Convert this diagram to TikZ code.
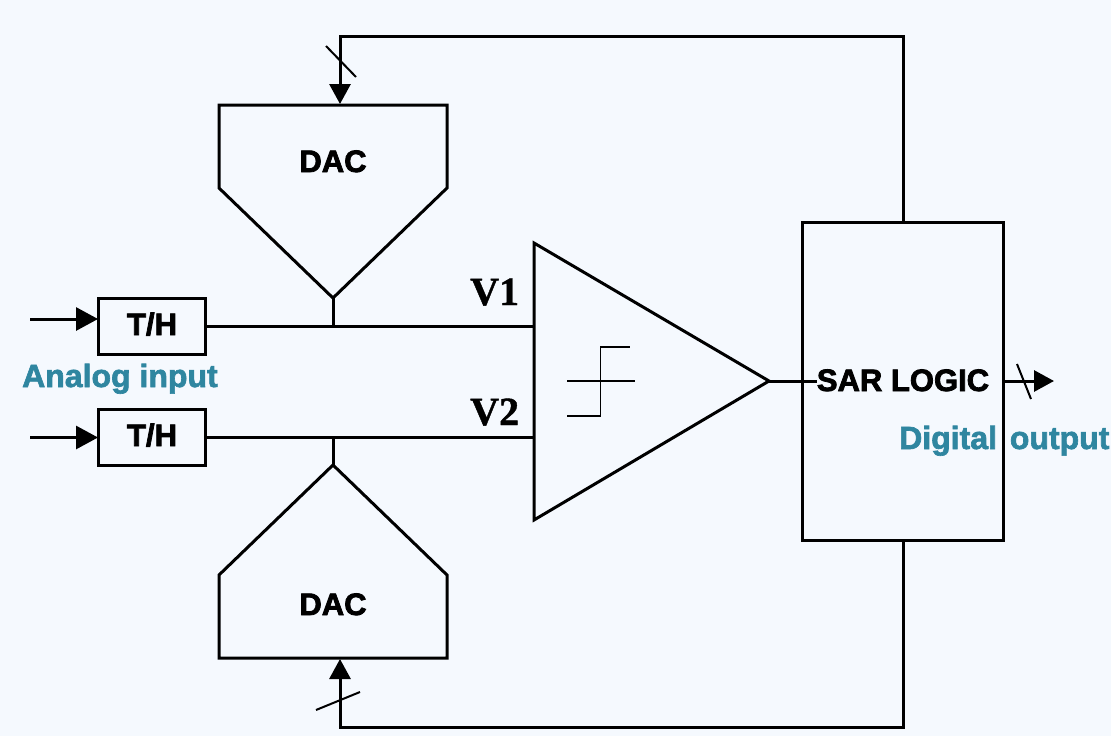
\documentclass[tikz,border=0pt]{standalone}
\usepackage{fontspec}
\setmainfont[BoldFeatures={FakeBold=2.5}]{Liberation Sans}
\newfontfamily\tealfont[BoldFeatures={FakeBold=2}]{Liberation Sans}
\newfontfamily\serifbold[BoldFeatures={FakeBold=1}]{Liberation Serif}
\usetikzlibrary{arrows.meta}
\definecolor{bgc}{HTML}{F5F9FE}
\definecolor{teal2}{HTML}{2F86A0}
\tikzset{
  x=1pt,y=-1pt,
  wire/.style={line width=3pt,black,line join=miter},
  thin wire/.style={line width=1.6pt,black},
  arrowed/.style={wire,-{Triangle[length=20pt,width=21pt,sep=0pt]}},
  inarrow/.style={wire,-{Triangle[length=22pt,width=23pt,sep=0pt]}},
  thbox/.style={draw=black,line width=3pt,rectangle,minimum width=107pt,minimum height=56pt,inner sep=0pt,outer sep=0pt},
  blk/.style={font=\fontsize{31}{31}\selectfont\bfseries,text=black,inner sep=0pt,outer sep=0pt},
  tealtxt/.style={font=\tealfont\fontsize{32}{32}\selectfont\bfseries,text=teal2,inner sep=0pt,anchor=base west},
  vtxt/.style={font=\serifbold\fontsize{40}{40}\selectfont\bfseries,text=black,inner sep=0pt,anchor=base west},
}
\begin{document}
\begin{tikzpicture}
\path[use as bounding box,fill=bgc] (0,0) rectangle (1111,736);

% T/H boxes
\node[thbox] (th1) at (151.5,326) {};
\node[thbox] (th2) at (151.5,437.5) {};
\node[blk,anchor=base] (th1t) at (152,335) {T/H};
\node[blk,anchor=base] (th2t) at (152,446) {T/H};

% inputs
\coordinate (in1) at (30,319);
\coordinate (in1e) at (98,319);
\coordinate (in2) at (30,437.5);
\draw[inarrow] (in1) -- (in1e);
\draw[inarrow] (in2) -- (th2.west);

% DACs
\coordinate (d1a) at (219,105);
\coordinate (d1b) at (447,105);
\coordinate (d1c) at (447,188);
\coordinate (d1tip) at (333,298);
\coordinate (d1e) at (219,188);
\draw[wire] (d1a) -- (d1b) -- (d1c) -- (d1tip) -- (d1e) -- cycle;
\node[blk,anchor=base] (dac1) at (333,172) {DAC};

\coordinate (d2tip) at (333,465);
\coordinate (d2b) at (447,575);
\coordinate (d2c) at (447,658);
\coordinate (d2d) at (219,658);
\coordinate (d2e) at (219,575);
\draw[wire] (d2tip) -- (d2b) -- (d2c) -- (d2d) -- (d2e) -- cycle;
\node[blk,anchor=base] (dac2) at (333,615) {DAC};

% comparator
\coordinate (ca) at (534,243);
\coordinate (cout) at (769,381);
\coordinate (cb) at (534,520);
\draw[wire] (ca) -- (cout) -- (cb) -- cycle;
\coordinate (cin1) at (534,326);
\coordinate (cin2) at (534,437.5);
\coordinate (tap1) at (333,326);
\coordinate (tap2) at (333,437.5);
\draw[wire] (th1.east) -- (cin1);
\draw[wire] (th2.east) -- (cin2);
\draw[wire] (d1tip) -- (tap1);
\draw[wire] (d2tip) -- (tap2);

% step symbol
\coordinate (s1) at (567,416);
\coordinate (s2) at (600.5,416);
\coordinate (s3) at (600.5,347);
\coordinate (s4) at (630,347);
\coordinate (s5) at (567,381);
\coordinate (s6) at (635,381);
\draw[thin wire] (s1) -- (s2) -- (s3) -- (s4);
\draw[thin wire] (s5) -- (s6);

% SAR
\node[draw=black,line width=3pt,rectangle,minimum width=201pt,minimum height=318pt,inner sep=0pt,outer sep=0pt] (sar) at (903,381.5) {};
\node[blk,anchor=base] (sart) at (903,391) {SAR LOGIC};
\draw[wire] (cout) -- (sart.west |- cout);

% feedback
\coordinate (t1) at (903,36);
\coordinate (t2) at (340,36);
\coordinate (t3) at (340,104);
\draw[arrowed] (sar.north -| t1) -- (t1) -- (t2) -- (t3);
\coordinate (b1) at (903,727);
\coordinate (b2) at (340,727);
\coordinate (b3) at (340,659);
\draw[arrowed] (sar.south -| b1) -- (b1) -- (b2) -- (b3);

% bus slashes
\coordinate (sl1a) at (326,46);
\coordinate (sl1b) at (356,77);
\draw[thin wire,line width=2pt] (sl1a) -- (sl1b);
\coordinate (sl2a) at (316,710);
\coordinate (sl2b) at (360,692);
\draw[thin wire,line width=2pt] (sl2a) -- (sl2b);

% output
\coordinate (oute) at (1054,381);
\draw[arrowed] (sar.east |- oute) -- (oute);
\coordinate (sl3a) at (1017,364);
\coordinate (sl3b) at (1031,399);
\draw[thin wire,line width=2pt] (sl3a) -- (sl3b);

% labels
\node[vtxt] (v1) at (470,305) {V1};
\node[vtxt] (v2) at (470,425) {V2};
\node[tealtxt] (ai) at (22,387) {Analog input};
\node[tealtxt] (dotxt) at (899,449) {Digital\hspace{4pt} output};
\end{tikzpicture}
\end{document}
